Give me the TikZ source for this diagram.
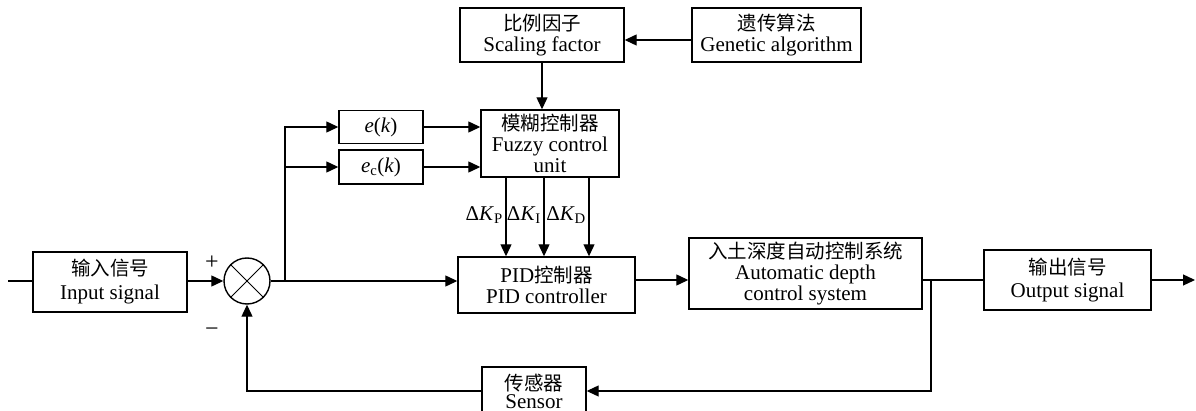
\documentclass[tikz,border=0pt]{standalone}
\usepackage{fontspec}
\setmainfont{Liberation Serif}
\newfontfamily\cjk{Noto Sans CJK SC}
\usetikzlibrary{arrows.meta,calc}
\newcommand\zh[1]{{\cjk\fontsize{19.5}{21}\selectfont #1}}
\tikzset{
  blk/.style={draw, line width=1.4pt, inner sep=0pt, align=center,
              font=\fontsize{21}{21}\selectfont},
  ln/.style={line width=1.2pt},
  arr/.style={line width=1.2pt, -{Triangle[length=12pt,width=11pt]}},
  lbl/.style={inner sep=1pt, font=\fontsize{21}{21}\selectfont},
  sign/.style={inner sep=1pt, font=\fontsize{24}{24}\selectfont},
}
\begin{document}
\begin{tikzpicture}[x=1pt,y=-1pt]
\useasboundingbox (0,0) rectangle (1196,411);
\begin{scope}
\clip (0,0) rectangle (1196,411);

% blocks
\node[blk, minimum width=154, minimum height=60] (inp) at (110,282) {\zh{输入信号}\\[3pt]Input signal};
\node[draw, circle, line width=1.4pt, minimum size=46, inner sep=0pt] (sum) at (247,281) {};
\node[blk, minimum width=84, minimum height=33] (ek) at (381,127) {\textit{e}(\textit{k})};
\node[blk, minimum width=84, minimum height=34] (ec) at (381,167) {\textit{e}\textsubscript{c}(\textit{k})};
\node[blk, minimum width=138, minimum height=67] (fz) at (550,143.5) {\zh{模糊控制器}\\Fuzzy control\\unit};
\node[blk, minimum width=164, minimum height=54] (sc) at (542,35) {\zh{比例因子}\\Scaling factor};
\node[blk, minimum width=169, minimum height=54] (ga) at (776.5,35) {\zh{遗传算法}\\Genetic algorithm};
\node[blk, minimum width=177, minimum height=56] (pid) at (546.5,285) {PID\zh{控制器}\\PID controller};
\node[blk, minimum width=233, minimum height=71] (ads) at (805.5,273.5) {\zh{入土深度自动控制系统}\\Automatic depth\\control system};
\node[blk, minimum width=167, minimum height=60] (out) at (1067.5,280) {\zh{输出信号}\\[2pt]Output signal};
\node[blk, minimum width=104, minimum height=48] (sen) at (534,391) {\zh{传感器}\\[-3pt]Sensor};

% summing junction cross
\draw[line width=1pt] (sum.north west) -- (sum.south east)
                      (sum.north east) -- (sum.south west);

% signs and gain labels
\node[sign] (plus) at (212,263) {+};
\node[sign] (minus) at (212,332) {−};
\node[lbl, anchor=east] (lkp) at (504,215) {Δ\textit{K}\textsubscript{P}};
\node[lbl, anchor=east] (lki) at (542,215) {Δ\textit{K}\textsubscript{I}};
\node[lbl, anchor=east] (lkd) at (587,215) {Δ\textit{K}\textsubscript{D}};

% helper points
\coordinate (start) at (8,281);
\coordinate (b1) at (285,281);
\coordinate (b2) at (931,280);
\coordinate (end) at (1195,280);
\coordinate (kp) at (506,0);
\coordinate (ki) at (544,0);
\coordinate (kd) at (589,0);

% connectors
\draw[ln] (start) -- (start -| inp.west);
\draw[arr] (inp.east |- sum) -- (sum.west);
\draw[arr] (sum.east) -- (sum.east -| pid.west);
\draw[arr] (b1) |- (ek.west);
\draw[arr] (b1) |- (ec.west);
\draw[arr] (ek.east) -- (ek.east -| fz.west);
\draw[arr] (ec.east) -- (ec.east -| fz.west);
\draw[arr] ([yshift=-5pt]ga.west) -- ([yshift=-5pt]sc.east);
\draw[arr] (sc.south) -- (sc.south |- fz.north);
\foreach \k in {kp,ki,kd} \draw[arr] (fz.south -| \k) -- (pid.north -| \k);
\draw[arr] (pid.east |- b2) -- (ads.west |- b2);
\draw[ln] (ads.east |- b2) -- (out.west |- b2);
\draw[arr] (out.east |- b2) -- (end);
\draw[arr] (b2) |- (sen.east);
\draw[arr] (sen.west) -| (sum.south);
\end{scope}
\end{tikzpicture}
\end{document}
